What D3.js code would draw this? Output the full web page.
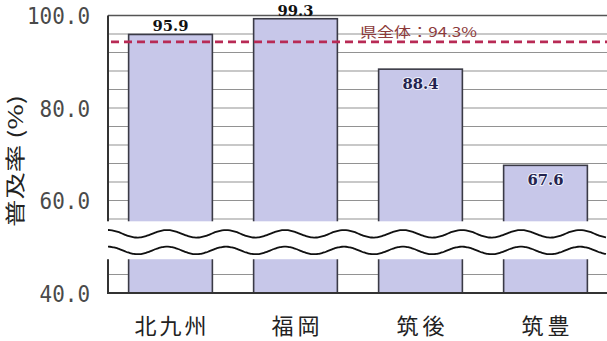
<!DOCTYPE html>
<html>
<head>
<meta charset="utf-8">
<script src="https://cdn.jsdelivr.net/npm/d3@7"></script>
<style>
  html, body { margin: 0; padding: 0; background: #fff; }
  svg { display: block; }
</style>
</head>
<body>
<svg id="chart" width="607" height="341"></svg>
<script>
// 地域別普及率
const categories = ["北九州", "福岡", "筑後", "筑豊"];
const values = [95.9, 99.3, 88.4, 67.6];
const prefectureAverage = 94.3;
const yTicks = [40, 60, 80, 100];
const yDomain = [40, 100];
const gridStep = 4;
const breakRange = [47.3, 55.5];   // omitted span on the value axis
const breakLines = [52.8, 49.2];   // wavy break markers

const W = 607, H = 341;
const plot = { left: 108, right: 608, top: 15.5, bottom: 293 };

const svg = d3.select("#chart");

const x = d3.scaleBand()
  .domain(categories)
  .range([plot.left, plot.right])
  .paddingInner(0.33)
  .paddingOuter(0.165);

const y = d3.scaleLinear()
  .domain(yDomain)
  .range([plot.bottom, plot.top]);

// horizontal gridlines
const grid = d3.range(yDomain[0], yDomain[1] + 0.001, gridStep);
svg.append("g")
  .selectAll("line")
  .data(grid)
  .join("line")
  .attr("x1", plot.left)
  .attr("x2", W)
  .attr("y1", d => y(d))
  .attr("y2", d => y(d))
  .attr("stroke", d => d === yDomain[1] ? "#555" : "#929292")
  .attr("stroke-width", d => d === yDomain[1] ? 1.5 : 1.2);

// bars
svg.append("g")
  .selectAll("rect")
  .data(values)
  .join("rect")
  .attr("x", (d, i) => x(categories[i]))
  .attr("y", d => y(d))
  .attr("width", x.bandwidth())
  .attr("height", d => y(yDomain[0]) - y(d))
  .attr("fill", "#c7c7e9")
  .attr("stroke", "#3a3a46")
  .attr("stroke-width", 1.6);

// prefecture-wide average
svg.append("line")
  .attr("x1", plot.left + 3)
  .attr("x2", W)
  .attr("y1", y(prefectureAverage))
  .attr("y2", y(prefectureAverage))
  .attr("stroke", "#b82a55")
  .attr("stroke-width", 2.6)
  .attr("stroke-dasharray", "8,5");

svg.append("text")
  .attr("x", 360)
  .attr("y", y(prefectureAverage) - 5)
  .attr("font-family", "'Noto Sans CJK JP', sans-serif")
  .attr("font-size", 13.5)
  .attr("fill", "#8c3a3a")
  .attr("textLength", 117)
  .attr("lengthAdjust", "spacingAndGlyphs")
  .text("県全体：" + prefectureAverage.toFixed(1) + "%");

// value labels: above the bar when it clears the average, otherwise inside the top
svg.append("g")
  .selectAll("text")
  .data(values)
  .join("text")
  .attr("x", (d, i) => x(categories[i]) + x.bandwidth() / 2)
  .attr("y", d => d > prefectureAverage ? y(d) - 3 : y(d) + 20)
  .attr("text-anchor", "middle")
  .attr("font-family", "'DejaVu Serif', serif")
  .attr("font-weight", "bold")
  .attr("font-size", 15.5)
  .attr("fill", d => d > prefectureAverage ? "#111" : "#23234f")
  .attr("stroke", d => d > prefectureAverage ? "none" : "#eef0fa")
  .attr("stroke-width", 2)
  .attr("paint-order", "stroke")
  .attr("textLength", 36)
  .attr("lengthAdjust", "spacingAndGlyphs")
  .text(d => d.toFixed(1));

// axis frame
svg.append("line")
  .attr("x1", plot.left).attr("x2", plot.left)
  .attr("y1", plot.top).attr("y2", plot.bottom)
  .attr("stroke", "#333").attr("stroke-width", 2);
svg.append("line")
  .attr("x1", plot.left - 1).attr("x2", W)
  .attr("y1", plot.bottom).attr("y2", plot.bottom)
  .attr("stroke", "#333").attr("stroke-width", 2);

// axis break: white band with two wavy lines
const bandTop = y(breakRange[1]), bandBottom = y(breakRange[0]);
svg.append("rect")
  .attr("x", plot.left - 1)
  .attr("y", bandTop)
  .attr("width", W - plot.left + 1)
  .attr("height", bandBottom - bandTop)
  .attr("fill", "#fff");

const period = 59, amp = 3.8, phase = 167;
const wave = d3.line().curve(d3.curveBasis);
breakLines.forEach(v => {
  const cy = y(v);
  const pts = d3.range(plot.left, W + 1, 2).map(px =>
    [px, cy - amp * Math.cos(2 * Math.PI * (px - phase) / period)]);
  svg.append("path")
    .attr("d", wave(pts))
    .attr("fill", "none")
    .attr("stroke", "#111")
    .attr("stroke-width", 1.8);
});

// y tick labels
svg.append("g")
  .selectAll("text")
  .data(yTicks)
  .join("text")
  .attr("x", 90)
  .attr("y", d => y(d) + 8.5)
  .attr("text-anchor", "end")
  .attr("font-family", "'DejaVu Sans Mono', monospace")
  .attr("font-size", 23.5)
  .attr("fill", "#4a4a4a")
  .attr("textLength", d => d.toFixed(1).length * 12.6)
  .attr("lengthAdjust", "spacingAndGlyphs")
  .text(d => d.toFixed(1));

// y axis title
svg.append("text")
  .attr("transform", "translate(23,161) rotate(-90)")
  .attr("text-anchor", "middle")
  .attr("font-family", "'Noto Sans CJK JP', sans-serif")
  .attr("font-size", 20)
  .attr("fill", "#222")
  .attr("textLength", 132)
  .attr("lengthAdjust", "spacingAndGlyphs")
  .text("普及率 (%)");

// category labels
svg.append("g")
  .selectAll("text")
  .data(categories)
  .join("text")
  .attr("x", d => x(d) + x.bandwidth() / 2)
  .attr("y", 334)
  .attr("text-anchor", "middle")
  .attr("font-family", "'Noto Sans CJK JP', sans-serif")
  .attr("font-size", 22)
  .attr("fill", "#222")
  .attr("textLength", d => d.length * 24)
  .attr("lengthAdjust", "spacing")
  .text(d => d);
</script>
</body>
</html>
